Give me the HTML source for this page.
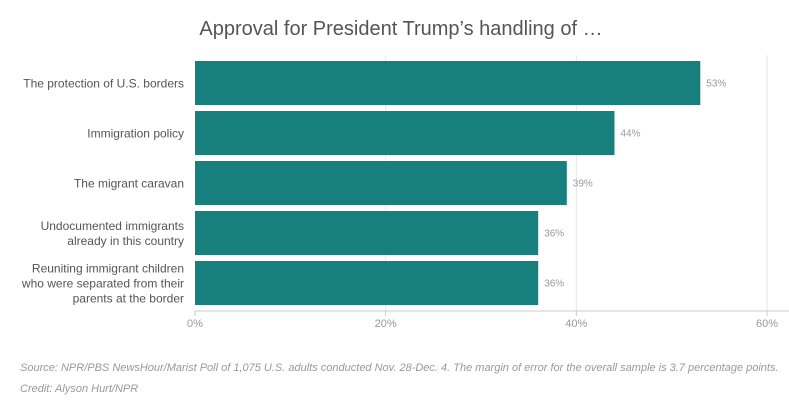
<!DOCTYPE html>
<html><head><meta charset="utf-8"><style>
body{margin:0;width:789px;height:412px;background:#fff;font-family:"Liberation Sans",sans-serif;overflow:hidden}
</style></head><body>
<svg width="789" height="412">
<text x="401" y="35" text-anchor="middle" font-size="20" fill="#555">Approval for President Trump’s handling of …</text>
<g id="grid"></g><g id="bars"></g><g id="axis"></g>
<text x="20" y="371" font-size="11" font-style="italic" fill="#999">Source: NPR/PBS NewsHour/Marist Poll of 1,075 U.S. adults conducted Nov. 28-Dec. 4. The margin of error for the overall sample is 3.7 percentage points.</text>
<text x="20" y="392" font-size="11" font-style="italic" fill="#999">Credit: Alyson Hurt/NPR</text>
</svg>
<script>
const categories=[["The protection of U.S. borders"],["Immigration policy"],["The migrant caravan"],["Undocumented immigrants","already in this country"],["Reuniting immigrant children","who were separated from their","parents at the border"]];
const values=[53,44,39,36,36];
const ticks=[0,20,40,60];
const ns="http://www.w3.org/2000/svg";
const x=v=>195+v*(767-195)/60;
const rowTop=i=>61+i*50, bh=44;
function mk(t,a,p,txt){const e=document.createElementNS(ns,t);for(const k in a)e.setAttribute(k,a[k]);if(txt!=null)e.textContent=txt;document.getElementById(p).appendChild(e);return e;}
ticks.forEach(t=>{
 if(t>0){const g=mk('line',{x1:x(t),x2:x(t),y1:55,y2:311,stroke:'#e6e6e6'},'grid');
 
 }
 const tk=mk('line',{x1:x(t),x2:x(t),y1:311,y2:316,stroke:'#ccc'},'axis');
 
 
 const lb=mk('text',{x:x(t),y:327,'text-anchor':'middle','font-size':11,fill:'#999'},'axis',t+'%');
 
 
});
const ax=mk('line',{x1:195,x2:789,y1:311,y2:311,stroke:'#ccc'},'axis');


values.forEach((v,i)=>{
 const r=mk('rect',{x:x(0),y:rowTop(i),width:x(v)-x(0),height:bh,fill:'#17807e'},'bars');
 
 
 const vl=mk('text',{x:x(v)+6,y:rowTop(i)+bh/2+3.5,'font-size':10,fill:'#999'},'bars',v+'%');
 
 
 const lines=categories[i];const lh=15;const y0=rowTop(i)+bh/2-(lines.length-1)*lh/2+4.5;
 lines.forEach((s,j)=>{const c=mk('text',{x:184,y:y0+j*lh,'text-anchor':'end','font-size':12,fill:'#555'},'bars',s);
 
 });
});
</script>
</body></html>
